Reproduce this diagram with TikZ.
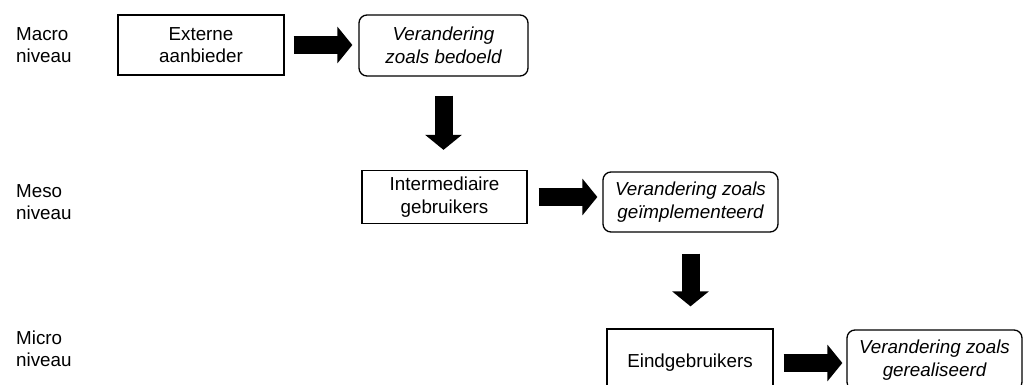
\documentclass[tikz,border=0pt]{standalone}
\usepackage{fontspec}
\setmainfont{Liberation Sans}
\usetikzlibrary{arrows.meta}
\tikzset{
  txt/.style={font=\fontsize{18.8}{22.5}\selectfont, align=center, inner sep=0pt},
  plainbox/.style={txt, draw, line width=1.3pt},
  roundbox/.style={txt, draw, line width=1.3pt, rounded corners=8pt, font=\fontsize{18.8}{22.5}\selectfont\itshape},
  lvl/.style={font=\fontsize{18.8}{22.5}\selectfont, align=left, inner sep=0pt, anchor=west},
  blockarrow/.style={line width=18pt, -{Triangle[width=36pt,length=15pt]}}
}
\begin{document}
\begin{tikzpicture}[x=1pt,y=-1pt]
\useasboundingbox (0,0) rectangle (1028,385);
\clip (0,0) rectangle (1028,385);
% level labels
\node[lvl] (macro) at (16,45) {Macro\\niveau};
\node[lvl] (meso) at (16,202) {Meso\\niveau};
\node[lvl] (micro) at (16,349) {Micro\\niveau};
% boxes
\node[plainbox, minimum width=166pt, minimum height=60pt] (ext) at (201,45) {Externe\\aanbieder};
\node[roundbox, minimum width=169pt, minimum height=61pt] (rb1) at (443.5,45.5) {Verandering\\zoals bedoeld};
\node[plainbox, minimum width=165pt, minimum height=53pt] (int) at (444.5,197) {Intermediaire\\gebruikers};
\node[roundbox, minimum width=175pt, minimum height=60pt] (rb2) at (690.5,202) {Verandering zoals\\geïmplementeerd};
\node[plainbox, minimum width=166pt, minimum height=68pt] (eind) at (690,363) {Eindgebruikers};
\node[roundbox, minimum width=175pt, minimum height=60pt] (rb3) at (934.5,360) {Verandering zoals\\gerealiseerd};
% arrows
\draw[blockarrow, shorten <=9pt, shorten >=6pt] (ext.east) -- (rb1.west |- ext.east);
\draw[blockarrow, shorten <=19pt, shorten >=20pt] (rb1.south) -- (rb1.south |- int.north);
\draw[blockarrow, shorten <=11pt, shorten >=5pt] (int.east) -- (rb2.west |- int.east);
\draw[blockarrow, shorten <=21pt, shorten >=22pt] (rb2.south) -- (rb2.south |- eind.north);
\draw[blockarrow, shorten <=10pt, shorten >=4pt] (eind.east) -- (rb3.west |- eind.east);
\end{tikzpicture}
\end{document}
